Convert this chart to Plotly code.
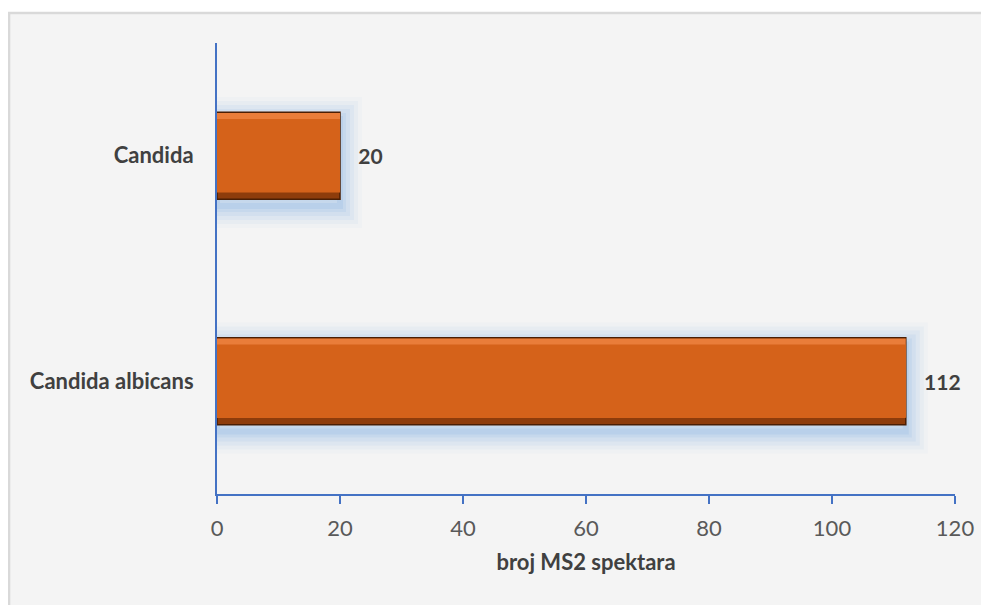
import plotly.graph_objects as go

categories = ["Candida albicans", "Candida"]
values = [112, 20]
x_ticks = [0, 20, 40, 60, 80, 100, 120]

ORANGE = "#d5621a"
LIGHT = "#e97d3a"
DARK = "#8e3c0b"
AXIS_BLUE = "#4472c4"
FONT = "Lato"
BW = 0.385   # bar thickness in category units
BEV = 0.03   # bevel strip thickness

fig = go.Figure()

# soft blue glow, slightly shifted downward
for lw, alpha in [(44, 0.04), (36, 0.06), (28, 0.08), (20, 0.10), (12, 0.13), (6, 0.16)]:
    fig.add_trace(go.Bar(
        y=categories, x=values, orientation="h", width=BW, offset=-BW / 2 - 0.03,
        marker=dict(color="rgba(0,0,0,0)",
                    line=dict(color=f"rgba(120,170,225,{alpha})", width=lw)),
        hoverinfo="skip", showlegend=False,
    ))

# dark base (bottom bevel + edge) + value labels
fig.add_trace(go.Bar(
    y=categories, x=values, orientation="h", width=BW,
    marker=dict(color=DARK, line=dict(color="#4a1e04", width=1.5)),
    text=values, texttemplate="   %{text}", textposition="outside",
    textfont=dict(family=FONT, size=21, color="#404040", weight="bold"),
    cliponaxis=False, showlegend=False,
))
# light top bevel
fig.add_trace(go.Bar(
    y=categories, x=values, orientation="h", width=BW - BEV - 0.006,
    offset=BW / 2 - 0.003 - (BW - BEV - 0.006),
    marker=dict(color=LIGHT, line=dict(width=0)),
    hoverinfo="skip", showlegend=False,
))
# main face
fig.add_trace(go.Bar(
    y=categories, x=values, orientation="h", width=BW - 2 * BEV, offset=-(BW / 2 - BEV),
    marker=dict(color=ORANGE, line=dict(width=0)),
    hoverinfo="skip", showlegend=False,
))

fig.update_layout(
    width=989, height=605,
    margin=dict(l=209, r=42, t=35, b=119),
    paper_bgcolor="white",
    plot_bgcolor="rgba(0,0,0,0)",
    barmode="overlay",
    font=dict(family=FONT, color="#404040"),
    shapes=[dict(
        type="rect", xref="paper", yref="paper", layer="below",
        x0=-0.2818, x1=1.1, y0=-0.3, y1=1.0665,
        fillcolor="#f4f4f4", line=dict(color="#d9d9d9", width=2.5),
    )],
    xaxis=dict(
        range=[0, 120], tickvals=x_ticks, showgrid=False, zeroline=False,
        showline=True, linecolor=AXIS_BLUE, linewidth=2,
        ticks="outside", tickcolor=AXIS_BLUE, tickwidth=2, ticklen=8,
        tickfont=dict(family=FONT, size=22, color="#595959"),
        ticklabelstandoff=6,
        title=dict(text="broj MS2 spektara", standoff=14,
                   font=dict(family=FONT, size=22, color="#404040", weight="bold")),
    ),
    yaxis=dict(
        categoryorder="array", categoryarray=categories,
        range=[-0.5, 1.5], showgrid=False, zeroline=False,
        showline=True, linecolor=AXIS_BLUE, linewidth=2, ticks="",
        tickfont=dict(family=FONT, size=22, color="#404040", weight="bold"),
        ticklabelstandoff=17,
    ),
)

fig.write_html("out.html")
